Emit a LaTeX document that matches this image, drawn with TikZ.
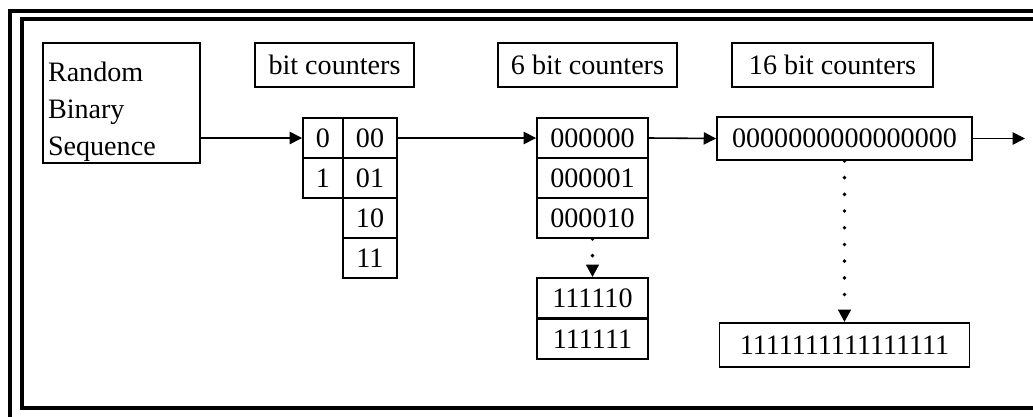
\documentclass[tikz,border=0pt]{standalone}
\usepackage{fontspec}
\setmainfont{Liberation Serif}
\usetikzlibrary{arrows.meta,positioning,calc}

\begin{document}
\begin{tikzpicture}[
    font=\fontsize{16}{21}\selectfont,
    frame/.style={line width=2pt},
    head/.style={draw, line width=1.6pt, inner sep=0pt, minimum height=0.88cm},
    cell/.style={draw, line width=1.1pt, inner sep=0pt, minimum height=0.8cm},
    link/.style={->, line width=0.9pt},
    dots/.style={->, line width=2.2pt, line cap=round, dash pattern=on 0pt off 9.5pt},
    >={Triangle[length=7pt,width=7pt]}
]
  \useasboundingbox (0,0) rectangle (20.66,-8.34);
  % double frame round the picture
  \draw[frame] (0.2,-8.34) -- (0.2,-0.22) -- (20.66,-0.22);
  \draw[frame] (20.66,-0.38) -- (0.44,-0.38) -- (0.44,-8.16) -- (20.66,-8.16);

  \node[draw, line width=1.6pt, inner xsep=0.1cm, inner ysep=0pt] (rbs) at (2.43,-2.06)
        {\parbox[c][2.4cm][c]{2.94cm}{\vspace*{0.36cm}Random\\Binary\\Sequence}};

  \node[head, minimum width=3.18cm] (hdra) at (6.69,-1.30) {bit counters};
  \node[head, minimum width=3.58cm] (hdrb) at (11.75,-1.30) {6 bit counters};
  \node[head, minimum width=4.02cm] (hdrc) at (16.65,-1.30) {16 bit counters};

  % 1 and 2 bit counters
  \node[cell, minimum width=0.8cm] (c0) at (6.46,-2.76) {0};
  \node[cell, minimum width=0.8cm] (c1) at (6.46,-3.56) {1};
  \node[cell, minimum width=1.08cm] (c00) at (7.40,-2.76) {00};
  \node[cell, minimum width=1.08cm] (c01) at (7.40,-3.56) {01};
  \node[cell, minimum width=1.08cm] (c10) at (7.40,-4.36) {10};
  \node[cell, minimum width=1.08cm] (c11) at (7.40,-5.16) {11};

  % 6 bit counters
  \node[cell, minimum width=2.22cm] (b0) at (11.85,-2.76) {000000};
  \node[cell, minimum width=2.22cm] (b1) at (11.85,-3.56) {000001};
  \node[cell, minimum width=2.22cm] (b2) at (11.85,-4.36) {000010};
  \node[cell, minimum width=2.22cm] (b62) at (11.85,-5.96) {111110};
  \node[cell, minimum width=2.22cm] (b63) at (11.85,-6.78) {111111};

  % 16 bit counters
  \node[cell, minimum width=5.1cm, minimum height=0.86cm] (w0) at (16.89,-2.77) {0000000000000000};
  \node[cell, minimum width=5.0cm, minimum height=0.88cm] (wmax) at (16.89,-6.90) {1111111111111111};
  \coordinate (out) at (20.5,-2.77);

  \draw[link] (c0.west -| rbs.east) -- (c0.west);
  \draw[link] (c00.east) -- (b0.west);
  \draw[link] (b0.east) -- (w0.west);
  \draw[link] (w0.east) -- (out);
  \draw[dots] (b2.south) -- (b62.north);
  \draw[dots] (w0.south) -- (wmax.north);
\end{tikzpicture}
\end{document}
